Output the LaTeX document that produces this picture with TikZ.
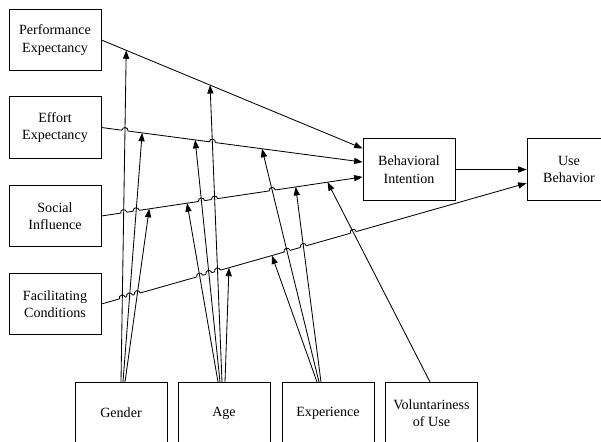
\documentclass[tikz,border=0pt]{standalone}
\usepackage{fontspec}
\setmainfont{Liberation Serif}
\usetikzlibrary{arrows.meta}
\usetikzlibrary{calc}
\usetikzlibrary{intersections}
\tikzset{
    construct/.style={draw=black, line width=.6pt, minimum width=2.3cm,
        minimum height=1.53cm, align=center,
        font=\fontsize{10}{12.5}\selectfont},
    link/.style={draw=black, line width=.6pt,
        -{Triangle[length=6pt,width=4.4pt]}},
    hop/.pic={
        \fill[white] (-2.2pt,-.5pt) rectangle (2.2pt,.5pt);
        \draw[line width=.6pt] (-2.2pt,0) arc (180:0:2.2pt);}
}
\def\moderators{gender/0/gpe, gender/2/gee, gender/4/gsi,
    age/-2/ape, age/-4/aee, age/-6/asi, age/1/afc,
    exp/-11/efc, exp/-9/eee, exp/-7/esi, vol/-1.5/vsi}

\begin{document}
\begin{tikzpicture}[x=.025cm, y=-.025cm]
\useasboundingbox (0,0) rectangle (601,442);
\node[construct] (pe) at (55,40) {Performance\\Expectancy};
\node[construct] (ee) at (55,127.5) {Effort\\Expectancy};
\node[construct] (si) at (55,216) {Social\\Influence};
\node[construct] (fc) at (55,304) {Facilitating\\Conditions};
\node[construct] (bi) at (409,169.5) {Behavioral\\Intention};
\node[construct, minimum width=2.1cm] (ub) at (569,169.5) {Use\\Behavior};
\node[construct] (gender) at (121,413) {Gender};
\node[construct] (age) at (224,413) {Age};
\node[construct] (exp) at (328,413) {Experience};
\node[construct] (vol) at (431.5,413) {Voluntariness\\of Use};

\coordinate (bi1) at ($(bi.north west)!.16!(bi.south west)$);
\coordinate (bi2) at ($(bi.north west)!.38!(bi.south west)$);
\coordinate (bi3) at ($(bi.north west)!.62!(bi.south west)$);
\coordinate (ub2) at ($(ub.north west)!.72!(ub.south west)$);

\draw[link, name path=peline] (pe.east) -- (bi1);
\draw[link, name path=eeline] (ee.east) -- (bi2);
\draw[link, name path=siline] (si.east) -- (bi3);
\draw[link, name path=fcline] (fc.east) -- (ub2);
\draw[link] (bi.east) -- (ub.west);

\coordinate (gpe) at ($(pe.east)!.095!(bi1)$);
\coordinate (ape) at ($(pe.east)!.416!(bi1)$);
\coordinate (gee) at ($(ee.east)!.156!(bi2)$);
\coordinate (aee) at ($(ee.east)!.359!(bi2)$);
\coordinate (eee) at ($(ee.east)!.615!(bi2)$);
\coordinate (gsi) at ($(si.east)!.183!(bi3)$);
\coordinate (asi) at ($(si.east)!.328!(bi3)$);
\coordinate (esi) at ($(si.east)!.744!(bi3)$);
\coordinate (vsi) at ($(si.east)!.866!(bi3)$);
\coordinate (afc) at ($(fc.east)!.300!(ub2)$);
\coordinate (efc) at ($(fc.east)!.401!(ub2)$);

\foreach \src/\dx/\tip in \moderators
  \path[name path global=\tip] ($(\src.north)+(\dx,0)$) -- (\tip);

\foreach \m in {gpe,ape}
  \path[name intersections={of=eeline and \m, by=x}] (x) pic[rotate=-7.4] {hop};
\foreach \m in {gpe,gee,ape,aee,eee}
  \path[name intersections={of=siline and \m, by=x}] (x) pic[rotate=8.5] {hop};
\foreach \m in {gpe,gee,gsi,ape,aee,asi,eee,esi,vsi}
  \path[name intersections={of=fcline and \m, by=x}] (x) pic[rotate=15.9] {hop};

\foreach \src/\dx/\tip in \moderators
  \draw[link] ($(\src.north)+(\dx,0)$) -- (\tip);
\end{tikzpicture}
\end{document}
